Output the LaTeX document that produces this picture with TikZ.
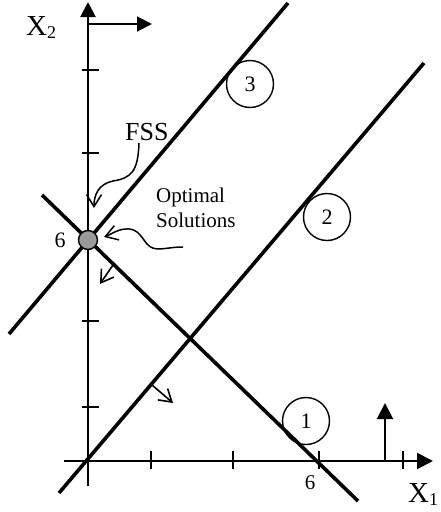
\documentclass[tikz,border=0pt]{standalone}
\usepackage{fontspec}
\setmainfont{Liberation Serif}
\usetikzlibrary{arrows.meta}
\begin{document}
\begin{tikzpicture}[x=1pt,y=-1pt,
  axisline/.style={line width=2pt},
  consline/.style={line width=3.6pt},
  tickline/.style={line width=2pt},
  bigtip/.style={-{Triangle[length=15pt,width=15pt]}},
  barb/.style={line width=1.6pt,-{Straight Barb[length=12pt,width=15pt]}},
  numcircle/.style={circle,draw,line width=1.4pt,minimum size=47pt,inner sep=0pt,font=\fontsize{22}{22}\selectfont},
  plain/.style={inner sep=0pt}
]
\useasboundingbox (0,0) rectangle (440,512);
% axes
\coordinate (O) at (88,461);
\coordinate (ybot) at (88,486);
\coordinate (ytop) at (88,2);
\coordinate (xleft) at (64,461);
\coordinate (xright) at (433,461);
\draw[axisline,bigtip] (ybot) -- (ytop);
\draw[axisline,-{Triangle[length=16pt,width=16pt]}] (xleft) -- (xright);
% top direction arrow
\coordinate (ha) at (88,24);
\coordinate (hb) at (152,24);
\draw[axisline,bigtip] (ha) -- (hb);
% bottom right direction arrow
\coordinate (va) at (385,461);
\coordinate (vb) at (385,403);
\draw[axisline,-{Triangle[length=16pt,width=16pt]}] (va) -- (vb);
% ticks on y axis
\foreach \ty in {70,153,321,407}{
  \draw[tickline] (82,\ty) -- (99,\ty);
}
% ticks on x axis
\foreach \tx in {151,233,319,403}{
  \draw[tickline] (\tx,451) -- (\tx,469);
}
% constraint lines
\coordinate (l1a) at (42,195);
\coordinate (l1b) at (358,501);
\coordinate (l2a) at (59,493);
\coordinate (l2b) at (424,63);
\coordinate (l3a) at (9,334);
\coordinate (l3b) at (288,3);
\draw[consline] (l1a) -- (l1b);
\draw[consline] (l2a) -- (l2b);
\draw[consline] (l3a) -- (l3b);
% numbered circles
\node[numcircle] (c3) at (250,84) {3};
\node[numcircle] (c2) at (327,217) {2};
\node[numcircle] (c1) at (306,421) {1};
% optimal point
\node[circle,draw,line width=1.4pt,fill=black!40,minimum size=19pt,inner sep=0pt] (opt) at (88,240) {};
% small direction arrows
\coordinate (a1s) at (113,265);
\coordinate (a1e) at (100,284);
\draw[barb] (a1s) -- (a1e);
\coordinate (a2s) at (152,385);
\coordinate (a2e) at (173,403);
\draw[barb] (a2s) -- (a2e);
% labels
\node[plain,anchor=base west,font=\fontsize{29}{29}\selectfont] (x2lab) at (26,35) {X\raisebox{-3pt}{\fontsize{18}{18}\selectfont 2}};
\node[plain,anchor=base west,font=\fontsize{29}{29}\selectfont] (x1lab) at (408,502) {X\raisebox{-3pt}{\fontsize{18}{18}\selectfont 1}};
\node[plain,anchor=base west,font=\fontsize{26}{26}\selectfont] (fss) at (125,140) {FSS};
\node[plain,anchor=base west,font=\fontsize{21}{21}\selectfont] (opt1) at (156,202) {Optimal};
\node[plain,anchor=base west,font=\fontsize{21}{21}\selectfont] (opt2) at (156,227) {Solutions};
\node[plain,font=\fontsize{22}{22}\selectfont] (six2) at (60,240.5) {6};
\node[plain,font=\fontsize{21}{21}\selectfont] (six1) at (310,483) {6};
% curved pointer arrows
\coordinate (fs0) at (139,143);
\coordinate (fs1) at (94,208);
\draw[barb,line width=1.5pt] (fs0) .. controls (138,172) and (131,178) .. (113,181) .. controls (99,184) and (94,194) .. (fs1);
\coordinate (os0) at (183,247);
\coordinate (os1) at (104,237);
\draw[barb,line width=1.5pt] (os0) .. controls (165,247) and (155,253) .. (147,244) .. controls (140,235) and (137,228) .. (125,229) .. controls (116,230) and (110,235) .. (os1);
\end{tikzpicture}
\end{document}
